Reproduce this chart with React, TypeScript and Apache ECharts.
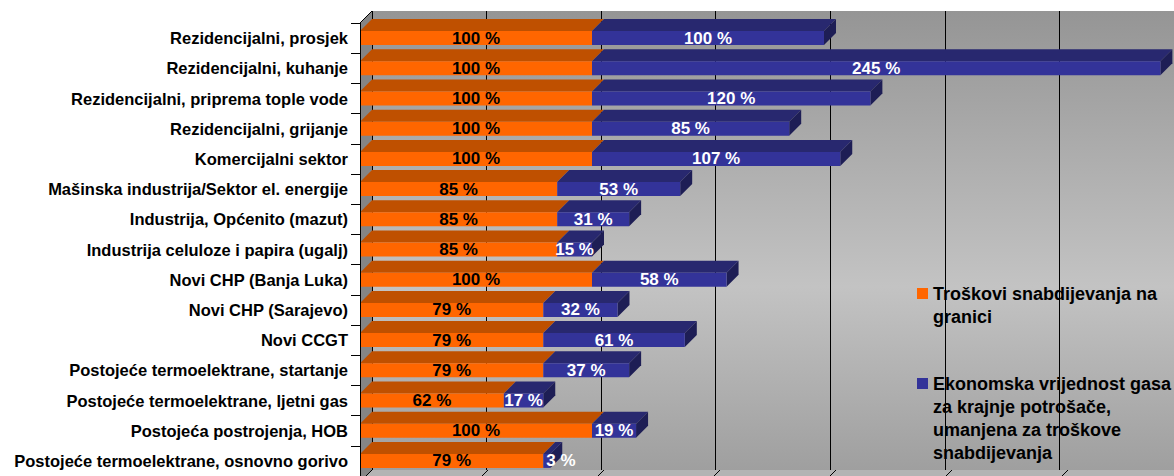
import React, { useEffect, useRef } from "react";
import * as echarts from "echarts";

const categories = [
  "Rezidencijalni, prosjek",
  "Rezidencijalni, kuhanje",
  "Rezidencijalni, priprema tople vode",
  "Rezidencijalni, grijanje",
  "Komercijalni sektor",
  "Mašinska industrija/Sektor el. energije",
  "Industrija, Općenito (mazut)",
  "Industrija celuloze i papira (ugalj)",
  "Novi CHP (Banja Luka)",
  "Novi CHP (Sarajevo)",
  "Novi CCGT",
  "Postojeće termoelektrane, startanje",
  "Postojeće termoelektrane, ljetni gas",
  "Postojeća postrojenja, HOB",
  "Postojeće termoelektrane, osnovno gorivo",
];
const borderCost = [100, 100, 100, 100, 100, 85, 85, 85, 100, 79, 79, 79, 62, 100, 79];
const economicValue = [100, 245, 120, 85, 107, 53, 31, 15, 58, 32, 61, 37, 17, 19, 3];
const seriesNames = [
  "Troškovi snabdijevanja na granici",
  "Ekonomska vrijednost gasa za krajnje potrošače, umanjena za troškove snabdijevanja",
];
const legendLines = [
  ["Troškovi snabdijevanja na", "granici"],
  ["Ekonomska vrijednost gasa", "za krajnje potrošače,", "umanjena za troškove", "snabdijevanja"],
];
const axisMax = 350;
const gridInterval = 50;

// layout
const FRONT_LEFT = 360;
const FRONT_TOP = 23;
const DEPTH = 12;
const BAND = 30.6;
const PLOT_H = BAND * categories.length;
const PX_PER = 2.32;
const PLOT_W = axisMax * PX_PER;
const BAR_W = 14;
const FONT = '"Liberation Sans", Arial, sans-serif';

const ORANGE = "#FF6600";
const ORANGE_TOP = "#BF5000";
const BLUE = "#333399";
const BLUE_TOP = "#28286F";
const BLUE_SIDE = "#1E1E55";

export default function App() {
  const ref = useRef<HTMLDivElement>(null);
  useEffect(() => {
    if (!ref.current) return;
    const chart = echarts.init(ref.current, undefined, { renderer: "svg" });
    const backLeft = FRONT_LEFT + DEPTH;
    const backTop = FRONT_TOP - DEPTH;
    const frontBottom = FRONT_TOP + PLOT_H;
    const backBottom = backTop + PLOT_H;

    const floorLines: any[] = [];
    for (let v = 0; v <= axisMax; v += gridInterval) {
      const x = FRONT_LEFT + v * PX_PER;
      floorLines.push({
        type: "line",
        z: -1,
        shape: { x1: x, y1: frontBottom, x2: x + DEPTH, y2: backBottom },
        style: { stroke: "#000", lineWidth: 1 },
      });
    }

    const legendGraphics: any[] = [];
    const legendTops = [282.5, 372.5];
    const legendColors = [ORANGE, BLUE];
    legendLines.forEach((lines, i) => {
      legendGraphics.push({
        type: "rect",
        shape: { x: 917, y: legendTops[i] + 5.5, width: 11, height: 11 },
        style: { fill: legendColors[i] },
        z: 10,
      });
      legendGraphics.push({
        type: "text",
        x: 933,
        y: legendTops[i],
        z: 10,
        style: {
          text: lines.join("\n"),
          fill: "#000",
          font: `bold 18px ${FONT}`,
          lineHeight: 23,
          verticalAlign: "top",
          align: "left",
        },
      });
    });

    const option: any = {
      animation: false,
      grid: [
        { left: FRONT_LEFT, top: FRONT_TOP, width: PLOT_W, height: PLOT_H },
        { left: backLeft, top: backTop, width: PLOT_W, height: PLOT_H },
      ],
      xAxis: [
        { gridIndex: 0, type: "value", min: 0, max: axisMax, show: false },
        {
          gridIndex: 1,
          type: "value",
          min: 0,
          max: axisMax,
          interval: gridInterval,
          axisLabel: { show: false },
          axisLine: { show: false },
          axisTick: { show: false },
          splitLine: { show: true, lineStyle: { color: "#000", width: 1 } },
        },
      ],
      yAxis: [
        {
          gridIndex: 0,
          type: "category",
          data: categories,
          inverse: true,
          z: 3,
          axisLine: { show: true, lineStyle: { color: "#000", width: 1 } },
          axisTick: { show: true, length: 9, lineStyle: { color: "#000" } },
          axisLabel: {
            color: "#000",
            fontWeight: "bold",
            fontSize: 16.5,
            fontFamily: FONT,
            margin: 12,
          },
        },
        { gridIndex: 1, type: "category", data: categories, inverse: true, show: false },
      ],
      graphic: [
        {
          type: "rect",
          z: -2,
          shape: { x: backLeft, y: backTop, width: PLOT_W, height: PLOT_H },
          style: {
            fill: new echarts.graphic.LinearGradient(0, 0, 0, 1, [
              { offset: 0, color: "#959595" },
              { offset: 0.6, color: "#c3c3c3" },
              { offset: 1, color: "#9f9f9f" },
            ]),
          },
        },
        {
          type: "polygon",
          z: -1,
          shape: {
            points: [
              [FRONT_LEFT, FRONT_TOP],
              [backLeft, backTop],
              [backLeft, backBottom],
              [FRONT_LEFT, frontBottom],
            ],
          },
          style: { fill: "#858585" },
        },
        {
          type: "polygon",
          z: -1,
          shape: {
            points: [
              [FRONT_LEFT, frontBottom],
              [FRONT_LEFT + PLOT_W, frontBottom],
              [backLeft + PLOT_W, backBottom],
              [backLeft, backBottom],
            ],
          },
          style: { fill: "#b4b4b4" },
        },
        {
          type: "line",
          z: 3,
          shape: { x1: FRONT_LEFT, y1: FRONT_TOP, x2: backLeft, y2: backTop },
          style: { stroke: "#000", lineWidth: 1 },
        },
        ...floorLines,
        ...legendGraphics,
      ],
      series: [
        {
          name: seriesNames[0],
          type: "bar",
          stack: "total",
          xAxisIndex: 0,
          yAxisIndex: 0,
          barWidth: BAR_W,
          itemStyle: { color: ORANGE },
          label: {
            show: true,
            position: "inside",
            formatter: "{c} %",
            color: "#000",
            fontWeight: "bold",
            fontSize: 17,
            fontFamily: FONT,
          },
          data: borderCost,
        },
        {
          name: seriesNames[1],
          type: "bar",
          stack: "total",
          xAxisIndex: 0,
          yAxisIndex: 0,
          barWidth: BAR_W,
          itemStyle: { color: BLUE },
          label: {
            show: true,
            position: "inside",
            formatter: "{c} %",
            color: "#fff",
            fontWeight: "bold",
            fontSize: 17,
            fontFamily: FONT,
          },
          data: economicValue.map((v) =>
            v * PX_PER < 20 ? { value: v, label: { position: "insideLeft", distance: 3 } } : v
          ),
        },
        {
          type: "custom",
          xAxisIndex: 0,
          yAxisIndex: 0,
          clip: false,
          silent: true,
          encode: { x: [1, 2], y: 0 },
          data: categories.map((_, i) => [i, borderCost[i], economicValue[i]]),
          renderItem: (params: any, api: any) => {
            const idx = api.value(0);
            const a = api.value(1);
            const b = api.value(2);
            const p0 = api.coord([0, idx]);
            const p1 = api.coord([a, idx]);
            const p2 = api.coord([a + b, idx]);
            const yt = p0[1] - BAR_W / 2;
            const D = DEPTH;
            return {
              type: "group",
              children: [
                {
                  type: "polygon",
                  shape: { points: [[p0[0], yt], [p1[0], yt], [p1[0] + D, yt - D], [p0[0] + D, yt - D]] },
                  style: { fill: ORANGE_TOP },
                },
                {
                  type: "polygon",
                  shape: { points: [[p1[0], yt], [p2[0], yt], [p2[0] + D, yt - D], [p1[0] + D, yt - D]] },
                  style: { fill: BLUE_TOP },
                },
                {
                  type: "polygon",
                  shape: {
                    points: [[p2[0], yt], [p2[0] + D, yt - D], [p2[0] + D, yt - D + BAR_W], [p2[0], yt + BAR_W]],
                  },
                  style: { fill: BLUE_SIDE },
                },
              ],
            };
          },
        },
      ],
    };
    chart.setOption(option);
    return () => chart.dispose();
  }, []);
  return (
    <div
      ref={ref}
      style={{ position: "absolute", left: 0, top: 0, width: 1174, height: 476, background: "#fff" }}
    />
  );
}
